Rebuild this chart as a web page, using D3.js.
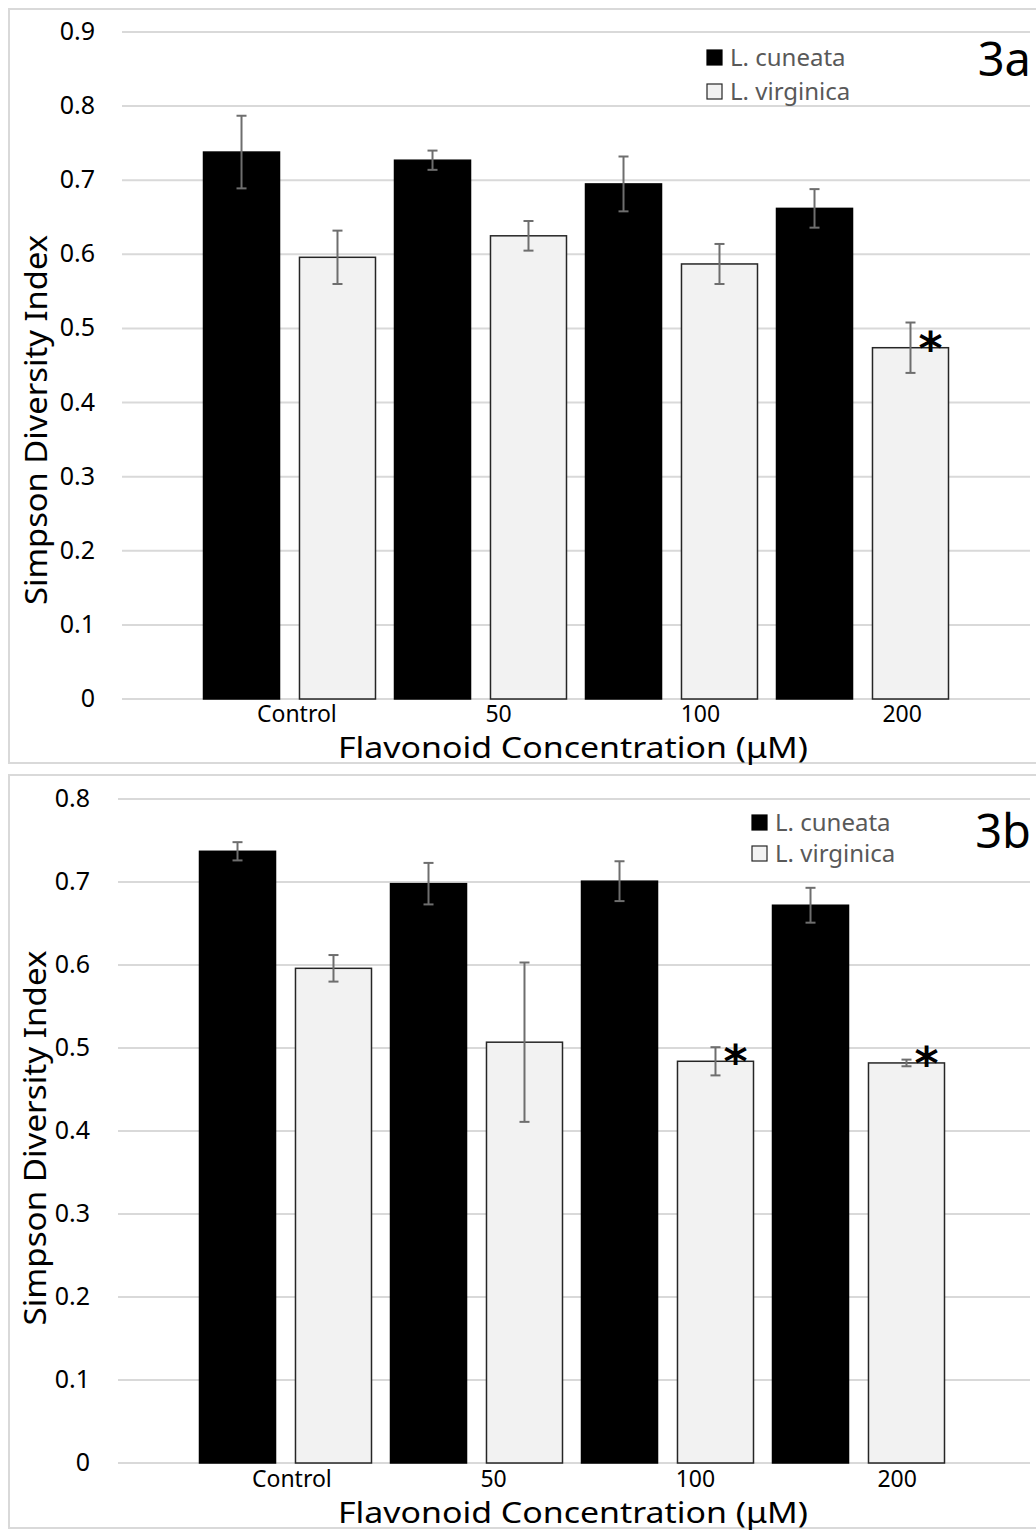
<!DOCTYPE html>
<html>
<head>
<meta charset="utf-8">
<script src="https://cdn.jsdelivr.net/npm/d3@7"></script>
<style>
  body { margin: 0; background: #fff; }
  svg { display: block; }
</style>
</head>
<body>
<script>
// categories and series
var categories = ["Control", "50", "100", "200"];
var species = ["L. cuneata", "L. virginica"];

// panel 3a values
var cuneataA = [0.738, 0.727, 0.695, 0.662];
var cuneataErrA = [0.049, 0.013, 0.037, 0.026];
var virginicaA = [0.596, 0.625, 0.587, 0.474];
var virginicaErrA = [0.036, 0.020, 0.027, 0.034];
var starsA = [false, false, false, true];
var ticksA = [0, 0.1, 0.2, 0.3, 0.4, 0.5, 0.6, 0.7, 0.8, 0.9];

// panel 3b values
var cuneataB = [0.737, 0.698, 0.701, 0.672];
var cuneataErrB = [0.011, 0.025, 0.024, 0.021];
var virginicaB = [0.596, 0.507, 0.484, 0.482];
var virginicaErrB = [0.016, 0.096, 0.017, 0.004];
var starsB = [false, false, true, true];
var ticksB = [0, 0.1, 0.2, 0.3, 0.4, 0.5, 0.6, 0.7, 0.8];

var width = 1036, height = 1530;

var svg = d3.select("body").append("svg")
	.attr("width", width)
	.attr("height", height);

var font = "'Noto Sans', 'Open Sans', sans-serif";

function drawPanel(p) {
	var g = svg.append("g");

	// frame round the panel
	g.append("rect")
		.attr("x", 9).attr("y", p.boxTop)
		.attr("width", 1040).attr("height", p.boxBottom - p.boxTop)
		.attr("fill", "none").attr("stroke", "#d9d9d9").attr("stroke-width", 2);

	var y = d3.scaleLinear()
		.domain([0, d3.max(p.ticks)])
		.range([p.yBottom, p.yTop]);

	var x0 = d3.scaleBand()
		.domain(categories)
		.range(p.barRange);

	var x1 = d3.scaleBand()
		.domain(species)
		.range([0, x0.bandwidth()])
		.paddingInner(0.208)
		.paddingOuter(0.099);

	// labels sit a little off the bar groups in the original
	var xl = d3.scaleBand()
		.domain(categories)
		.range(p.labelRange);

	// gridlines
	g.selectAll(".grid")
		.data(p.ticks)
		.enter().append("line")
			.attr("x1", p.gridLeft).attr("x2", 1030)
			.attr("y1", function(d){ return y(d); })
			.attr("y2", function(d){ return y(d); })
			.attr("stroke", "#d9d9d9").attr("stroke-width", 2);

	// y tick labels
	g.selectAll(".ytick")
		.data(p.ticks)
		.enter().append("text")
			.attr("x", p.tickRight)
			.attr("y", function(d){ return y(d) + 8; })
			.attr("text-anchor", "end")
			.attr("font-family", font)
			.attr("font-size", 25)
			.attr("fill", "#000")
			.text(function(d){ return d === 0 ? "0" : d3.format(".1f")(d); });

	var rows = categories.map(function(c, i){
		return [
			{cat: c, sp: species[0], v: p.cun[i], e: p.cunErr[i], star: false},
			{cat: c, sp: species[1], v: p.vir[i], e: p.virErr[i], star: p.stars[i]}
		];
	});
	var flat = [].concat.apply([], rows);

	var bars = g.selectAll(".bar")
		.data(flat)
		.enter().append("g")
			.attr("transform", function(d){ return "translate(" + (x0(d.cat) + x1(d.sp)) + ",0)"; });

	bars.append("rect")
		.attr("x", 0)
		.attr("y", function(d){ return y(d.v); })
		.attr("width", x1.bandwidth())
		.attr("height", function(d){ return y(0) - y(d.v); })
		.attr("fill", function(d){ return d.sp === species[0] ? "#000" : "#f2f2f2"; })
		.attr("stroke", function(d){ return d.sp === species[0] ? "#000" : "#262626"; })
		.attr("stroke-width", 1.5);

	// error bars
	var cx = x1.bandwidth() / 2;
	bars.append("line")
		.attr("x1", cx).attr("x2", cx)
		.attr("y1", function(d){ return y(d.v + d.e); })
		.attr("y2", function(d){ return y(d.v - d.e); })
		.attr("stroke", "#6e6e6e").attr("stroke-width", 2);
	[1, -1].forEach(function(s){
		bars.append("line")
			.attr("x1", cx - 5).attr("x2", cx + 5)
			.attr("y1", function(d){ return y(d.v + s * d.e); })
			.attr("y2", function(d){ return y(d.v + s * d.e); })
			.attr("stroke", "#6e6e6e").attr("stroke-width", 2);
	});

	// significance stars, sitting on the bar top
	bars.filter(function(d){ return d.star; })
		.append("text")
			.attr("x", cx + 20)
			.attr("y", function(d){ return y(d.v) + 17; })
			.attr("text-anchor", "middle")
			.attr("font-family", "'DejaVu Sans', sans-serif")
			.attr("font-weight", "bold")
			.attr("font-size", 46)
			.text("*");

	// category labels
	g.selectAll(".xlab")
		.data(categories)
		.enter().append("text")
			.attr("x", function(d){ return xl(d) + xl.bandwidth() / 2; })
			.attr("y", p.labelY)
			.attr("text-anchor", "middle")
			.attr("font-family", font)
			.attr("font-size", 23)
			.attr("fill", "#000")
			.text(function(d){ return d; });

	// axis titles
	g.append("text")
		.attr("x", 573).attr("y", p.titleY)
		.attr("text-anchor", "middle")
		.attr("font-family", font)
		.attr("font-size", 29)
		.attr("textLength", 470)
		.attr("lengthAdjust", "spacingAndGlyphs")
		.text("Flavonoid Concentration (\u03bcM)");

	g.append("text")
		.attr("transform", "translate(" + p.yTitleX + "," + p.yTitleY + ") rotate(-90)")
		.attr("text-anchor", "middle")
		.attr("font-family", font)
		.attr("font-size", 30)
		.attr("textLength", p.yTitleLen)
		.attr("lengthAdjust", "spacingAndGlyphs")
		.text("Simpson Diversity Index");

	// legend
	var leg = g.selectAll(".leg")
		.data(species)
		.enter().append("g")
			.attr("transform", function(d, i){ return "translate(" + p.legX + "," + (p.legY + i * p.legStep) + ")"; });
	leg.append("rect")
		.attr("x", 0).attr("y", -16)
		.attr("width", 15).attr("height", 15)
		.attr("fill", function(d, i){ return i === 0 ? "#000" : "#f2f2f2"; })
		.attr("stroke", function(d, i){ return i === 0 ? "#000" : "#262626"; })
		.attr("stroke-width", 1.2);
	leg.append("text")
		.attr("x", 23).attr("y", 0)
		.attr("font-family", font)
		.attr("font-size", 24)
		.attr("fill", "#595959")
		.text(function(d){ return d; });

	// panel tag
	g.append("text")
		.attr("x", 1031).attr("y", p.tagY)
		.attr("text-anchor", "end")
		.attr("font-family", font)
		.attr("font-size", 47)
		.text(p.tag);
}

drawPanel({
	tag: "3a", cun: cuneataA, cunErr: cuneataErrA, vir: virginicaA, virErr: virginicaErrA,
	stars: starsA, ticks: ticksA,
	boxTop: 9, boxBottom: 763, yTop: 32, yBottom: 699,
	barRange: [194, 958], labelRange: [196, 1003], gridLeft: 122, tickRight: 95,
	labelY: 722, titleY: 758, yTitleX: 47, yTitleY: 420, yTitleLen: 370,
	legX: 707, legY: 66, legStep: 34, tagY: 76
});

drawPanel({
	tag: "3b", cun: cuneataB, cunErr: cuneataErrB, vir: virginicaB, virErr: virginicaErrB,
	stars: starsB, ticks: ticksB,
	boxTop: 775, boxBottom: 1528, yTop: 799, yBottom: 1463,
	barRange: [190, 954], labelRange: [191, 998], gridLeft: 118, tickRight: 90,
	labelY: 1487, titleY: 1523, yTitleX: 46, yTitleY: 1138, yTitleLen: 375,
	legX: 752, legY: 831, legStep: 31, tagY: 848
});
</script>
</body>
</html>
